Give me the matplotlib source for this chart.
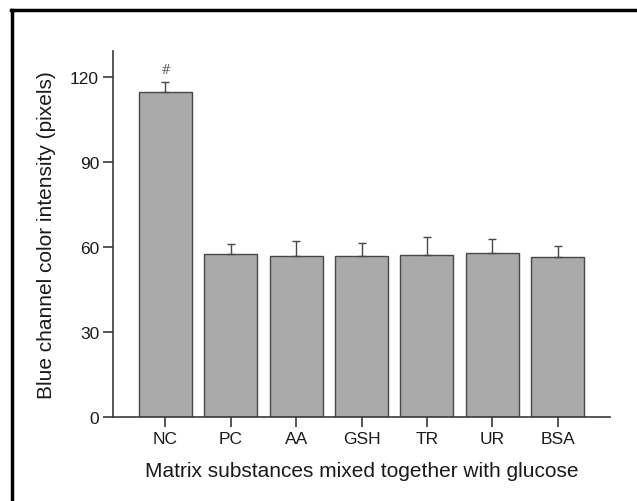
import matplotlib
matplotlib.use("Agg")
import matplotlib.pyplot as plt
from matplotlib.lines import Line2D

plt.rcParams['font.family'] = ['Liberation Sans', 'DejaVu Sans']

categories = ['NC', 'PC', 'AA', 'GSH', 'TR', 'UR', 'BSA']
values = [114.5, 57.3, 56.7, 56.7, 57.2, 57.8, 56.5]
errors = [3.7, 3.8, 5.2, 4.6, 6.1, 5.0, 3.6]

fig = plt.figure(figsize=(6.37, 5.02), dpi=100)
ax = fig.add_axes([113/637, 84/502, 497/637, 366/502])

x = list(range(len(categories)))
ax.bar(x, values, width=0.81, color='#aaaaaa', edgecolor='#484848', linewidth=1.0,
       yerr=[[0]*len(errors), errors], capsize=3,
       error_kw=dict(ecolor='#484848', elinewidth=1.0, capthick=1.0))
ax.text(0, values[0] + errors[0] + 2, '#', ha='center', va='bottom',
        fontsize=9, family='DejaVu Serif', color='#666666')

ax.set_xlim(-0.8, 6.8)
ax.set_ylim(0, 129)
ax.set_yticks([0, 30, 60, 90, 120])
ax.set_xticks(x)
ax.set_xticklabels(categories)
for s in ['top', 'right']:
    ax.spines[s].set_visible(False)
for s in ['left', 'bottom']:
    ax.spines[s].set_color('#3a3a3a')
    ax.spines[s].set_linewidth(1.2)
ax.tick_params(colors='#3a3a3a', labelcolor='#1a1a1a', labelsize=12.5, length=7, width=1.2, pad=3)
ax.set_ylabel('Blue channel color intensity (pixels)', fontsize=15, color='#1a1a1a', labelpad=10)
ax.set_xlabel('Matrix substances mixed together with glucose', fontsize=15, color='#1a1a1a', labelpad=11)

# frame around the figure (only top and left are visible in the crop)
fig.add_artist(Line2D([12/637, 12/637], [-0.1, 1 - 11/502], color='black', lw=2.5,
                      transform=fig.transFigure))
fig.add_artist(Line2D([11/637, 1.1], [1 - 11/502, 1 - 11/502], color='black', lw=2.5,
                      transform=fig.transFigure))

fig.savefig('out.png', dpi=100)
